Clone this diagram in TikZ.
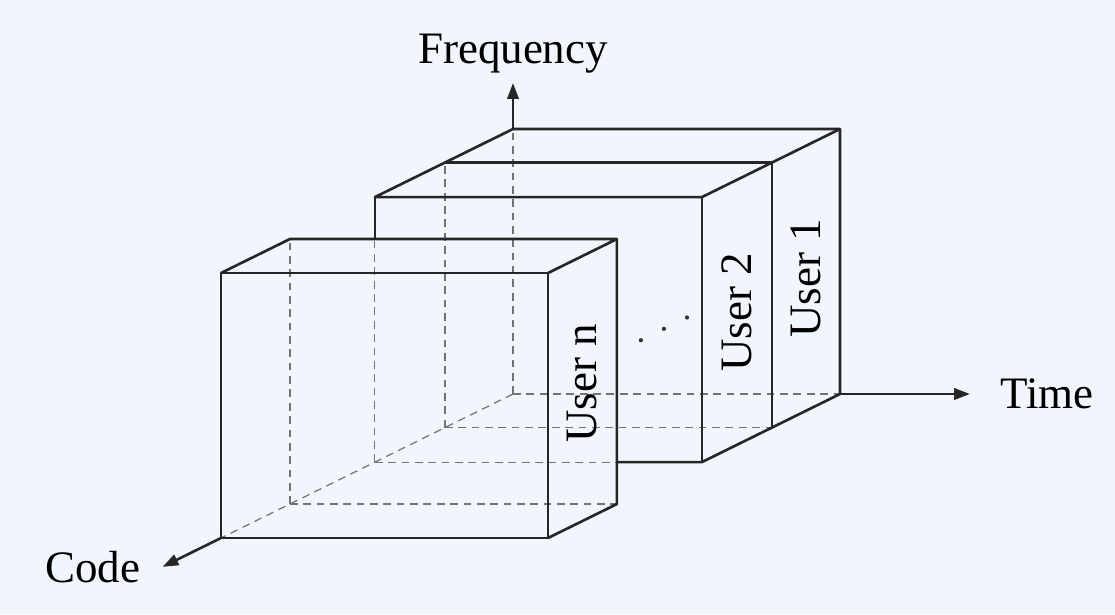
\documentclass[tikz,border=0pt]{standalone}
\usepackage{fontspec}
\setmainfont{Liberation Serif}
\usetikzlibrary{arrows.meta}
\definecolor{scanbg}{RGB}{240,246,251}
\begin{document}
\begin{tikzpicture}[x={(1cm,0cm)},y={(0cm,1cm)},z={(-2.92cm,-1.44cm)},
  line join=round,
  edge/.style={line width=0.75pt,black!85},
  hidden/.style={line width=0.35pt,black!55,dash pattern=on 2.2pt off 1.6pt},
  axis/.style={edge,-{Triangle[length=4.5pt,width=3.2pt]}},
  axlabel/.style={font=\fontsize{12.8}{15}\selectfont},
  userlabel/.style={rotate=90,font=\fontsize{12.8}{15}\selectfont}]
\fill[scanbg] (-5.13,-2.20) rectangle (6.02,3.94);
\useasboundingbox (-5.13,-2.20) rectangle (6.02,3.94);
% hidden edges
\foreach \c in {0,0.233,0.764} \draw[hidden] (0,0,\c) -- (0,2.65,\c);
\draw[hidden] (0,0,0.473) -- (0,2.231,0.473);
\foreach \c in {0,0.233,0.764} \draw[hidden] (0,0,\c) -- (3.27,0,\c);
\draw[hidden] (0,0,0.473) -- (2.42,0,0.473);
\draw[hidden] (0,0,0) -- (0,0,1);
% back slabs (user 1, user 2)
\draw[edge] (0,2.65,0) -- (3.27,2.65,0) -- (3.27,0,0) -- (3.27,0,0.473) -- (2.42,0,0.473);
\draw[edge] (0,2.65,0) -- (0,2.65,0.473) -- (3.27,2.65,0.473) -- (3.27,2.65,0);
\draw[edge] (0,2.65,0.473) -- (0,2.231,0.473);
\draw[edge] (0,2.65,0.233) -- (3.27,2.65,0.233) -- (3.27,0,0.233);
\draw[edge] (3.27,2.65,0.473) -- (3.27,0,0.473);
% front slab (user n)
\draw[edge] (0,0,1) -- (3.27,0,1) -- (3.27,2.65,1) -- (0,2.65,1) -- cycle;
\draw[edge] (0,2.65,1) -- (0,2.65,0.764) -- (3.27,2.65,0.764) -- (3.27,2.65,1);
\draw[edge] (3.27,2.65,0.764) -- (3.27,0,0.764) -- (3.27,0,1);
% axes
\coordinate (ftop) at (0,2.65,0);
\coordinate (ftip) at (0,3.11,0);
\coordinate (tfoot) at (3.27,0,0);
\coordinate (ttip) at (4.57,0,0);
\coordinate (cfoot) at (0,0,1);
\coordinate (ctip) at (0,0,1.2);
\draw[axis] (ftop) -- (ftip);
\draw[axis] (tfoot) -- (ttip);
\draw[axis] (cfoot) -- (ctip);
\node[axlabel,above=-0.3mm] (freq) at (ftip) {Frequency};
\node[axlabel,right=1.8mm] (time) at (ttip) {Time};
\node[axlabel,left=1mm] (code) at (ctip) {Code};
% slab labels
\node[userlabel] (user1) at (3.27,1.325,0.1165) {User 1};
\node[userlabel] (user2) at (3.27,1.325,0.353) {User 2};
\node[userlabel,xshift=0.5mm] (usern) at (3.27,1.325,0.882) {User n};
\foreach \c in {0.524,0.603,0.682} \fill[black!80] (3.27,1.52,\c) circle (0.6pt);
\end{tikzpicture}
\end{document}
